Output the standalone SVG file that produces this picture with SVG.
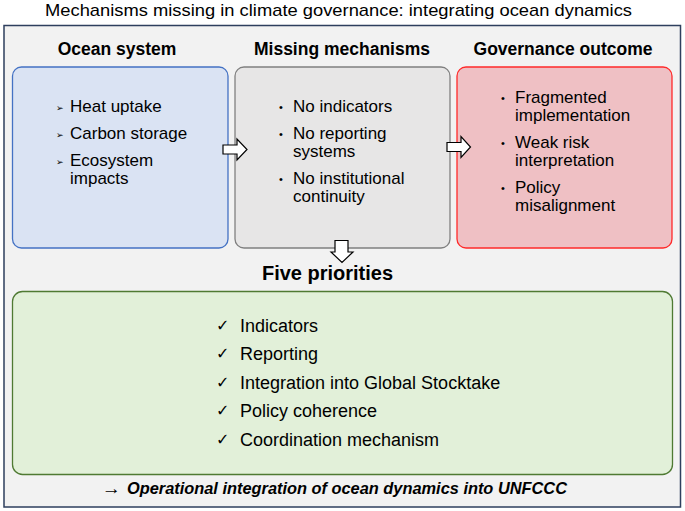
<svg xmlns="http://www.w3.org/2000/svg" width="685" height="511" viewBox="0 0 685 511">
<style>
text{font-family:"Liberation Sans",Arial,"DejaVu Sans",sans-serif;fill:#000}
.title{font-size:17px}
.hdr{font-size:17.5px;font-weight:bold;text-anchor:middle}
.item{font-size:17px}
.chk{font-size:18px}
.bul{font-size:11px}
.arr{font-size:9px;font-family:"DejaVu Sans",sans-serif}
.tick{font-size:16px;font-family:"DejaVu Sans",sans-serif}
.blk{fill:#fff;stroke:#000;stroke-width:1.2;stroke-linejoin:miter}
</style>
<rect width="685" height="511" fill="#fff"/>
<text class="title" x="338.5" y="16" text-anchor="middle" textLength="587" lengthAdjust="spacingAndGlyphs">Mechanisms missing in climate governance: integrating ocean dynamics</text>
<rect id="frame" x="4" y="25.5" width="676.5" height="481.5" fill="#f2f2f2" stroke="#2e3f5e" stroke-width="1.5"/>

<g id="hdr-ocean"><text class="hdr" x="117" y="55">Ocean system</text></g>
<g id="hdr-missing"><text class="hdr" x="342" y="55">Missing mechanisms</text></g>
<g id="hdr-gov"><text class="hdr" x="563" y="55">Governance outcome</text></g>

<g id="ocean-system">
<rect x="12.5" y="67" width="215.5" height="181" rx="9" fill="#dae3f3" stroke="#4472c4" stroke-width="1.3"/>
<text class="arr" x="56" y="111">➢</text><text class="item" x="70" y="112">Heat uptake</text>
<text class="arr" x="56" y="138">➢</text><text class="item" x="70" y="139">Carbon storage</text>
<text class="arr" x="56" y="165">➢</text><text class="item" x="70" y="166">Ecosystem</text>
<text class="item" x="70" y="184">impacts</text>
</g>

<g id="missing-mechanisms">
<rect x="235" y="67" width="215" height="181" rx="9" fill="#e7e6e6" stroke="#808080" stroke-width="1.3"/>
<text class="bul" x="279" y="111">•</text><text class="item" x="293" y="112">No indicators</text>
<text class="bul" x="279" y="138">•</text><text class="item" x="293" y="139">No reporting</text>
<text class="item" x="293" y="157">systems</text>
<text class="bul" x="279" y="183">•</text><text class="item" x="293" y="184">No institutional</text>
<text class="item" x="293" y="202">continuity</text>
</g>

<g id="governance-outcome">
<rect x="457" y="67" width="215" height="181" rx="9" fill="#efc0c4" stroke="#ff2a2a" stroke-width="1.3"/>
<text class="bul" x="501" y="102">•</text><text class="item" x="515" y="103">Fragmented</text>
<text class="item" x="515" y="121">implementation</text>
<text class="bul" x="501" y="147">•</text><text class="item" x="515" y="148">Weak risk</text>
<text class="item" x="515" y="166">interpretation</text>
<text class="bul" x="501" y="192">•</text><text class="item" x="515" y="193">Policy</text>
<text class="item" x="515" y="211">misalignment</text>
</g>

<g id="connectors">
<polygon class="blk" points="223,145 237,145 237,139 247,149.5 237,160 237,154 223,154"/>
<polygon class="blk" points="447,142.5 461,142.5 461,136.5 470.5,147 461,157.5 461,151.5 447,151.5"/>
<polygon class="blk" points="335,240.5 348,240.5 348,252 353,252 342,262.5 331,252 335,252"/>
</g>

<g id="hdr-five"><text x="327.5" y="280" font-size="20" font-weight="bold" text-anchor="middle">Five priorities</text></g>

<g id="five-priorities">
<rect x="12.5" y="291.5" width="660" height="183" rx="10" fill="#e2f0d9" stroke="#4f7a33" stroke-width="1.3"/>
<text class="tick" x="216" y="331">✓</text><text class="chk" x="240" y="332">Indicators</text>
<text class="tick" x="216" y="359">✓</text><text class="chk" x="240" y="360">Reporting</text>
<text class="tick" x="216" y="388">✓</text><text class="chk" x="240" y="389">Integration into Global Stocktake</text>
<text class="tick" x="216" y="416">✓</text><text class="chk" x="240" y="417">Policy coherence</text>
<text class="tick" x="216" y="445">✓</text><text class="chk" x="240" y="446">Coordination mechanism</text>
</g>

<g id="conclusion">
<text x="102" y="494" font-size="17" font-family="DejaVu Sans,sans-serif" textLength="19" lengthAdjust="spacingAndGlyphs">→</text>
<text x="127" y="494" font-size="17" font-weight="bold" font-style="italic" textLength="440" lengthAdjust="spacingAndGlyphs">Operational integration of ocean dynamics into UNFCCC</text>
</g>
</svg>
